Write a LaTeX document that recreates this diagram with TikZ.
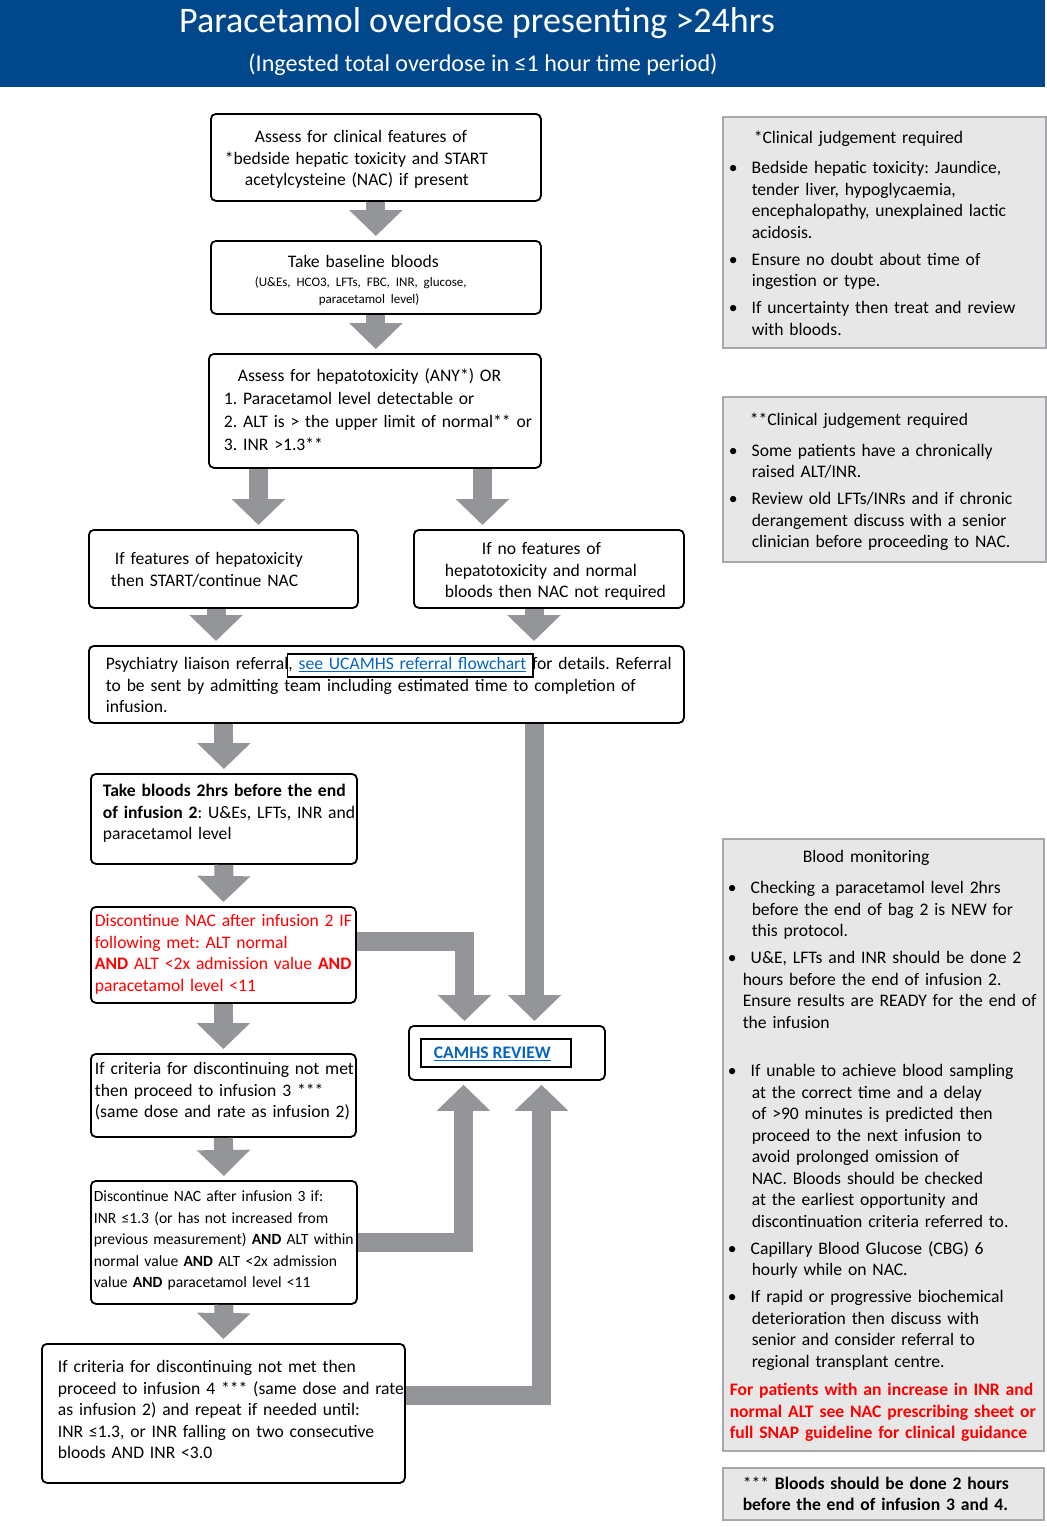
\documentclass[tikz,border=0pt]{standalone}
\usepackage{fontspec}
\setmainfont{Carlito}
\usetikzlibrary{arrows.meta}
\definecolor{headblue}{RGB}{0,71,139}
\definecolor{agrey}{RGB}{147,149,152}
\definecolor{panelfill}{RGB}{231,231,232}
\definecolor{paneldraw}{RGB}{166,168,171}
\definecolor{linkblue}{RGB}{5,99,193}
\newcommand{\bodyfont}{\fontsize{17.6pt}{21.5pt}\selectfont}
\newcommand{\smallbody}{\fontsize{13pt}{17pt}\selectfont}
\newcommand{\nl}{\hfil\break}
\newcommand{\bitem}[2][21pt]{\par\hangindent=#1\hangafter=1\hspace*{-2pt}\makebox[23pt][l]{\textbullet}#2\par}
\newcommand{\linkbox}[1]{{\setlength{\fboxsep}{0pt}\setlength{\fboxrule}{1.5pt}\kern-1.5pt\fbox{\strut#1}\kern-1.5pt}}
\begin{document}
\begin{tikzpicture}[x=1pt,y=-1pt,
  every node/.append style={execute at begin node={\frenchspacing\rightskip=-100pt plus 1fil\relax\parindent=0pt\relax\parskip=0pt\relax}},
  box/.style={draw=black, line width=1.8pt, rounded corners=5pt, anchor=north west, inner ysep=0pt, font=\bodyfont, text height=0pt},
  panel/.style={draw=paneldraw, fill=panelfill, line width=1.5pt, anchor=north west, inner ysep=0pt, inner xsep=7pt, text width=307pt, font=\bodyfont, execute at begin node={\parskip=5.5pt\relax}},
  bigarrow/.style={draw=agrey, line width=19pt, -{Triangle[width=52pt,length=26pt]}, shorten >=4pt}
]
\useasboundingbox (0,0) rectangle (1047,1527);
% header
\node[fill=headblue, anchor=north west, minimum width=1045pt, minimum height=87pt, inner sep=0pt] (head) at (0,0) {};
\node[text=white, font=\fontsize{36pt}{40pt}\selectfont, anchor=base, inner sep=0pt] (title) at (477,32) {Paracetamol overdose presenting >24hrs};
\node[text=white, font=\fontsize{24.1pt}{27pt}\selectfont, anchor=base, inner sep=0pt] (subtitle) at (483,71) {(Ingested total overdose in ≤1 hour time period)};

% flow boxes
\node[box, minimum width=330pt, minimum height=87pt, inner xsep=10pt, text width=310pt, text depth=29pt] (b1) at (210,113)
 {\hspace*{34pt}Assess for clinical features of\\\hspace*{4pt}*bedside hepatic toxicity and START\\\hspace*{24pt}acetylcysteine (NAC) if present\par};
\node[box, minimum width=330pt, minimum height=73pt, inner xsep=10pt, text width=310pt, text depth=19pt] (b2) at (210,240)
 {\hspace*{67pt}Take baseline bloods\par\vspace{2pt}\smallbody\hspace*{34pt}(U\&Es, HCO3, LFTs, FBC, INR, glucose,\\\hspace*{98pt}paracetamol level)\par};
\node[box, minimum width=332pt, minimum height=114pt, inner xsep=10pt, text width=312pt, text depth=58pt] (b3) at (208,353)
 {\baselineskip=23pt\leftskip=5pt\hspace*{14pt}Assess for hepatotoxicity (ANY*) OR\\1. Paracetamol level detectable or\\2. ALT is > the upper limit of normal** or\\3. INR >1.3**\par};
\node[box, minimum width=269pt, minimum height=78pt, inner xsep=10pt, text width=249pt, text depth=8pt] (b4) at (88,529)
 {\leftskip=12pt\hspace*{4pt}If features of hepatoxicity\\then START/continue NAC\par};
\node[box, minimum width=270pt, minimum height=78pt, inner xsep=10pt, text width=250pt, text depth=28pt] (b5) at (413,529)
 {\leftskip=21pt\hspace*{37pt}If no features of\\hepatotoxicity and normal\\bloods then NAC not required\par};
\node[box, minimum width=595pt, minimum height=77pt, inner xsep=8pt, text width=579pt, text depth=29pt] (b6) at (88,645)
 {\leftskip=9pt Psychiatry liaison referral\linkbox{, \textcolor{linkblue}{\underline{see UCAMHS referral flowchart}} }for details. Referral\\to be sent by admitting team including estimated time to completion of\\infusion.\par};
\node[box, minimum width=266pt, minimum height=90pt, inner xsep=4pt, text width=258pt, text depth=44pt] (b7) at (90,773)
 {\leftskip=8pt\textbf{Take bloods 2hrs before the end}\\\textbf{of infusion 2}: U\&Es, LFTs, INR and\\paracetamol level\par};
\node[box, minimum width=265pt, minimum height=96pt, inner xsep=3pt, text width=259pt, text=red, text depth=56pt] (b8) at (90,906)
 {\leftskip=1pt Discontinue NAC after infusion 2 IF\\following met: ALT normal\\\textbf{AND} ALT <2x admission value \textbf{AND}\\paracetamol level <11\par};
\node[box, minimum width=265pt, minimum height=83pt, inner xsep=3pt, text width=259pt, text depth=41pt] (b9) at (90,1053)
 {\leftskip=1pt If criteria for discontinuing not met\\then proceed to infusion 3 ***\\(same dose and rate as infusion 2)\par};
\node[box, minimum width=266pt, minimum height=123pt, inner xsep=2pt, text width=262pt, font=\fontsize{15.6pt}{21.5pt}\selectfont, text depth=81pt] (b10) at (90,1180)
 {\leftskip=1pt Discontinue NAC after infusion 3 if:\\INR ≤1.3 (or has not increased from\\previous measurement) \textbf{AND} ALT within\\normal value \textbf{AND} ALT <2x admission\\value \textbf{AND} paracetamol level <11\par};
\node[box, minimum width=363pt, minimum height=139pt, inner xsep=8pt, text width=347pt, text depth=81pt] (b11) at (41,1343)
 {\leftskip=8pt If criteria for discontinuing not met then\\proceed to infusion 4 *** (same dose and rate\\as infusion 2) and repeat if needed until:\\INR ≤1.3, or INR falling on two consecutive\\bloods AND INR <3.0\par};
\node[draw=black, line width=1.8pt, rounded corners=5pt, anchor=north west, minimum width=196pt, minimum height=54pt, inner sep=0pt, align=center, font=\bodyfont] (camhs) at (408,1025)
 {{\setlength{\fboxrule}{2pt}\setlength{\fboxsep}{0pt}\fbox{\makebox[148pt][l]{\rule[-7pt]{0pt}{26pt}\hspace{12pt}\textbf{\textcolor{linkblue}{\underline{CAMHS REVIEW}}}}}}\hspace{22pt}};

% side panels
\node[panel, minimum width=323pt, minimum height=231pt] (r1) at (722,116)
 {\rule{0pt}{15pt}\hspace*{23pt}*Clinical judgement required\par\vspace{3pt}
  \bitem{Bedside hepatic toxicity: Jaundice,\nl tender liver, hypoglycaemia,\nl encephalopathy, unexplained lactic\nl acidosis.}
  \bitem{Ensure no doubt about time of\nl ingestion or type.}
  \bitem{If uncertainty then treat and review\nl with bloods.}};
\node[panel, minimum width=323pt, minimum height=165pt] (r2) at (722,396)
 {\rule{0pt}{18pt}\hspace*{19pt}**Clinical judgement required\par\vspace{4pt}
  \bitem{Some patients have a chronically\nl raised ALT/INR.}
  \bitem{Review old LFTs/INRs and if chronic\nl derangement discuss with a senior\nl clinician before proceeding to NAC.}};
\node[panel, minimum width=321pt, minimum height=612pt] (r3) at (722,838)
 {\rule{0pt}{15pt}\hspace*{73pt}Blood monitoring\par\vspace{4pt}
  \bitem[22pt]{Checking a paracetamol level 2hrs\nl before the end of bag 2 is NEW for\nl this protocol.}
  \bitem[13pt]{U\&E, LFTs and INR should be done 2\nl hours before the end of infusion 2.\nl Ensure results are READY for the end of\nl the infusion}
  \vspace{21.5pt}
  \bitem[22pt]{If unable to achieve blood sampling\nl at the correct time and a delay\nl of >90 minutes is predicted then\nl proceed to the next infusion to\nl avoid prolonged omission of\nl NAC. Bloods should be checked\nl at the earliest opportunity and\nl discontinuation criteria referred to.}
  \bitem[22pt]{Capillary Blood Glucose (CBG) 6\nl hourly while on NAC.}
  \bitem[22pt]{If rapid or progressive biochemical\nl deterioration then discuss with\nl senior and consider referral to\nl regional transplant centre.}
  \vspace{1.5pt}
  \textcolor{red}{\textbf{For patients with an increase in INR and\nl normal ALT see NAC prescribing sheet or\nl full SNAP guideline for clinical guidance}}\par};
\node[panel, minimum width=321pt, minimum height=52pt] (r4) at (722,1467)
 {\leftskip=13pt *** \textbf{Bloods should be done 2 hours\nl before the end of infusion 3 and 4.}\par};

% helper coordinates
\coordinate (xa) at (258.5,0);
\coordinate (xb) at (482.5,0);
\coordinate (xc) at (216,0);
\coordinate (xd) at (534,0);
\coordinate (xf) at (534.5,0);
\coordinate (xg) at (464.5,0);
\coordinate (xh) at (463.5,0);
\coordinate (xi) at (541.5,0);
\coordinate (yg) at (0,941.5);
\coordinate (yi) at (0,1395);

% connectors
\draw[bigarrow] (b1.south) -- (b2.north);
\draw[bigarrow] (b2.south) -- (b2.south |- b3.north);
\draw[bigarrow] (xa |- b3.south) -- (xa |- b4.north);
\draw[bigarrow] (xb |- b3.south) -- (xb |- b5.north);
\draw[bigarrow] (xc |- b4.south) -- (xc |- b6.north);
\draw[bigarrow] (xd |- b5.south) -- (xd |- b6.north);
\draw[bigarrow] (b7.north |- b6.south) -- (b7.north);
\draw[bigarrow] (xf |- b6.south) -- (xf |- camhs.north);
\draw[bigarrow] (b7.south) -- (b8.north);
\draw[bigarrow] (b8.south) -- (b9.north);
\draw[bigarrow] (b9.south) -- (b10.north);
\draw[bigarrow] (b10.south) -- (b11.north);
\draw[bigarrow] (b8.east |- yg) -| (xg |- camhs.north);
\draw[bigarrow] (b10.east) -| (xh |- camhs.south);
\draw[bigarrow] (b11.east |- yi) -| (xi |- camhs.south);
\end{tikzpicture}
\end{document}
